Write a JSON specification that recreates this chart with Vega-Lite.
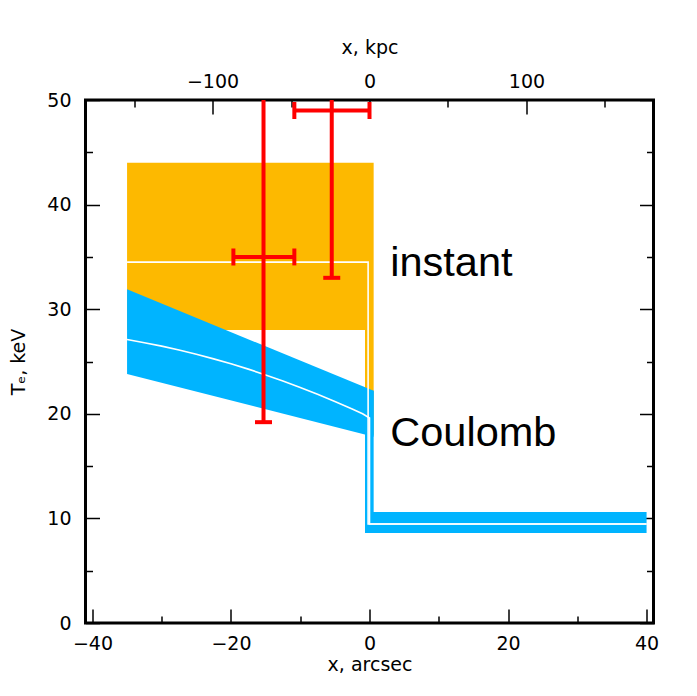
{
  "$schema": "https://vega.github.io/schema/vega-lite/v6.json",
  "width": 568,
  "height": 523,
  "autosize": {"type": "none"},
  "padding": {"left": 85.5, "top": 100, "right": 43.5, "bottom": 73},
  "background": "white",
  "config": {
    "view": {"stroke": "black", "strokeWidth": 3},
    "axis": {
      "domain": false, "grid": false, "zindex": 1,
      "labelFont": "DejaVu Sans", "labelFontSize": 19, "labelColor": "black",
      "tickColor": "black", "tickWidth": 1.5, "labelFlush": false,
      "titleFont": "DejaVu Sans", "titleFontSize": 19, "titleFontWeight": "normal", "titleColor": "black"
    }
  },
  "datasets": {
    "orange": [
      {"x": -35, "x2": 0.6, "y": 28, "y2": 44},
      {"x": -0.65, "x2": 0.6, "y": 18, "y2": 28}
    ],
    "blueBand": [
      {"x": -35, "lo": 23.8, "hi": 31.9},
      {"x": 0.6, "lo": 17.8, "hi": 22.2}
    ],
    "blueRects": [
      {"x": -0.65, "x2": 0.6, "y": 8.6, "y2": 22.2},
      {"x": -0.65, "x2": 40, "y": 8.6, "y2": 10.6}
    ],
    "lines": [
      {"model": "instant", "i": 0, "x": -35, "y": 34.5},
      {"model": "instant", "i": 1, "x": -0.2, "y": 34.5},
      {"model": "instant", "i": 2, "x": -0.2, "y": 9.46},
      {"model": "instant", "i": 3, "x": 40, "y": 9.46},
      {"model": "Coulomb", "i": 0, "x": -35, "y": 27.1},
      {"model": "Coulomb", "i": 1, "x": -32.5, "y": 26.8},
      {"model": "Coulomb", "i": 2, "x": -30, "y": 26.47},
      {"model": "Coulomb", "i": 3, "x": -27.5, "y": 26.1},
      {"model": "Coulomb", "i": 4, "x": -25, "y": 25.69},
      {"model": "Coulomb", "i": 5, "x": -22.5, "y": 25.25},
      {"model": "Coulomb", "i": 6, "x": -20, "y": 24.78},
      {"model": "Coulomb", "i": 7, "x": -17.5, "y": 24.27},
      {"model": "Coulomb", "i": 8, "x": -15, "y": 23.72},
      {"model": "Coulomb", "i": 9, "x": -12.5, "y": 23.14},
      {"model": "Coulomb", "i": 10, "x": -10, "y": 22.52},
      {"model": "Coulomb", "i": 11, "x": -7.5, "y": 21.87},
      {"model": "Coulomb", "i": 12, "x": -5, "y": 21.18},
      {"model": "Coulomb", "i": 13, "x": -2.5, "y": 20.46},
      {"model": "Coulomb", "i": 14, "x": -1, "y": 20.0},
      {"model": "Coulomb", "i": 15, "x": 0, "y": 19.6},
      {"model": "Coulomb", "i": 16, "x": 0, "y": 9.46},
      {"model": "Coulomb", "i": 17, "x": 40, "y": 9.46}
    ],
    "obs": [
      {"x": -15.3, "xlo": -19.65, "xhi": -10.85, "y": 35.0, "ylo": 19.2, "yhi": 65},
      {"x": -5.45, "xlo": -10.85, "xhi": 0.0, "y": 49.0, "ylo": 33.0, "yhi": 65}
    ],
    "labels": [
      {"label": "instant", "x": 3, "y": 33.2},
      {"label": "Coulomb", "x": 3, "y": 16.9}
    ]
  },
  "layer": [
    {
      "data": {"name": "orange"},
      "mark": {"type": "rect", "color": "#fdb900"},
      "encoding": {
        "x": {"field": "x", "type": "quantitative", "scale": {"domain": [-41, 41], "nice": false, "zero": false},
              "axis": {"orient": "bottom", "values": [-40, -20, 0, 20, 40], "tickSize": -14, "labelPadding": 25, "title": "x,  arcsec", "titlePadding": 2}},
        "x2": {"field": "x2"},
        "y": {"field": "y", "type": "quantitative", "scale": {"domain": [0, 50], "nice": false, "zero": false},
              "axis": {"orient": "left", "values": [0, 10, 20, 30, 40, 50], "tickSize": -14, "labelPadding": 28.5, "title": "Tₑ,  keV", "titlePadding": 18}},
        "y2": {"field": "y2"}
      }
    },
    {
      "data": {"name": "blueBand"},
      "mark": {"type": "area", "color": "#00b4ff", "opacity": 1},
      "encoding": {
        "x": {"field": "x", "type": "quantitative", "scale": {"domain": [-41, 41], "nice": false, "zero": false},
              "axis": {"orient": "bottom", "values": [-30, -10, 10, 30], "tickSize": -7, "labels": false, "title": null}},
        "y": {"field": "lo", "type": "quantitative", "scale": {"domain": [0, 50], "nice": false, "zero": false},
              "axis": {"orient": "left", "values": [5, 15, 25, 35, 45], "tickSize": -7, "labels": false, "title": null}},
        "y2": {"field": "hi"}
      }
    },
    {
      "data": {"name": "blueRects"},
      "mark": {"type": "rect", "color": "#00b4ff"},
      "encoding": {
        "x": {"field": "x", "type": "quantitative", "scale": {"domain": [-41, 41], "nice": false, "zero": false}, "axis": null},
        "x2": {"field": "x2"},
        "y": {"field": "y", "type": "quantitative", "scale": {"domain": [0, 50], "nice": false, "zero": false}, "axis": null},
        "y2": {"field": "y2"}
      }
    },
    {
      "data": {"name": "lines"},
      "mark": {"type": "line", "color": "white", "strokeWidth": 1.6},
      "encoding": {
        "x": {"field": "x", "type": "quantitative", "scale": {"domain": [-41, 41], "nice": false, "zero": false}, "axis": null},
        "y": {"field": "y", "type": "quantitative", "scale": {"domain": [0, 50], "nice": false, "zero": false}, "axis": null},
        "detail": {"field": "model"},
        "order": {"field": "i"}
      }
    },
    {
      "data": {"name": "obs"},
      "mark": {"type": "rule", "color": "red", "strokeWidth": 4, "clip": true},
      "encoding": {
        "x": {"field": "x", "type": "quantitative", "scale": {"domain": [-41, 41], "nice": false, "zero": false}, "axis": null},
        "y": {"field": "ylo", "type": "quantitative", "scale": {"domain": [0, 50], "nice": false, "zero": false}, "axis": null},
        "y2": {"field": "yhi"}
      }
    },
    {
      "data": {"name": "obs"},
      "mark": {"type": "rule", "color": "red", "strokeWidth": 4, "clip": true},
      "encoding": {
        "x": {"field": "xlo", "type": "quantitative", "scale": {"domain": [-41, 41], "nice": false, "zero": false}, "axis": null},
        "x2": {"field": "xhi"},
        "y": {"field": "y", "type": "quantitative", "scale": {"domain": [0, 50], "nice": false, "zero": false}, "axis": null}
      }
    },
    {
      "data": {"name": "obs"},
      "mark": {"type": "tick", "color": "red", "orient": "horizontal", "size": 17, "thickness": 4, "opacity": 1, "clip": true},
      "encoding": {
        "x": {"field": "x", "type": "quantitative", "scale": {"domain": [-41, 41], "nice": false, "zero": false}, "axis": null},
        "y": {"field": "ylo", "type": "quantitative", "scale": {"domain": [0, 50], "nice": false, "zero": false}, "axis": null}
      }
    },
    {
      "data": {"name": "obs"},
      "mark": {"type": "tick", "color": "red", "orient": "vertical", "size": 17, "thickness": 4, "opacity": 1, "clip": true},
      "encoding": {
        "x": {"field": "xlo", "type": "quantitative", "scale": {"domain": [-41, 41], "nice": false, "zero": false}, "axis": null},
        "y": {"field": "y", "type": "quantitative", "scale": {"domain": [0, 50], "nice": false, "zero": false}, "axis": null}
      }
    },
    {
      "data": {"name": "obs"},
      "mark": {"type": "tick", "color": "red", "orient": "vertical", "size": 17, "thickness": 4, "opacity": 1, "clip": true},
      "encoding": {
        "x": {"field": "xhi", "type": "quantitative", "scale": {"domain": [-41, 41], "nice": false, "zero": false}, "axis": null},
        "y": {"field": "y", "type": "quantitative", "scale": {"domain": [0, 50], "nice": false, "zero": false}, "axis": null}
      }
    },
    {
      "data": {"name": "labels"},
      "mark": {"type": "text", "font": "Liberation Sans", "fontSize": 41.5, "align": "left", "baseline": "alphabetic", "color": "black"},
      "encoding": {
        "x": {"field": "x", "type": "quantitative", "scale": {"domain": [-41, 41], "nice": false, "zero": false}, "axis": null},
        "y": {"field": "y", "type": "quantitative", "scale": {"domain": [0, 50], "nice": false, "zero": false}, "axis": null},
        "text": {"field": "label"}
      }
    },
    {
      "data": {"values": []},
      "mark": {"type": "point", "opacity": 0},
      "encoding": {
        "x": {"field": "kpc", "type": "quantitative", "scale": {"domain": [-180.93, 180.93], "nice": false, "zero": false},
              "axis": {"orient": "top", "values": [-100, 0, 100], "tickSize": -14, "labelPadding": 23, "title": "x,  kpc", "titlePadding": 15}},
        "y": {"field": "t", "type": "quantitative", "scale": {"domain": [0, 50], "nice": false, "zero": false},
              "axis": {"orient": "right", "values": [0, 10, 20, 30, 40, 50], "tickSize": -14, "labels": false, "title": null}}
      }
    },
    {
      "data": {"values": []},
      "mark": {"type": "point", "opacity": 0},
      "encoding": {
        "x": {"field": "kpc", "type": "quantitative", "scale": {"domain": [-180.93, 180.93], "nice": false, "zero": false},
              "axis": {"orient": "top", "values": [-150, -50, 50, 150], "tickSize": -7, "labels": false, "title": null}},
        "y": {"field": "t", "type": "quantitative", "scale": {"domain": [0, 50], "nice": false, "zero": false},
              "axis": {"orient": "right", "values": [5, 15, 25, 35, 45], "tickSize": -7, "labels": false, "title": null}}
      }
    }
  ],
  "resolve": {
    "scale": {"x": "independent", "y": "independent"},
    "axis": {"x": "independent", "y": "independent"}
  }
}
